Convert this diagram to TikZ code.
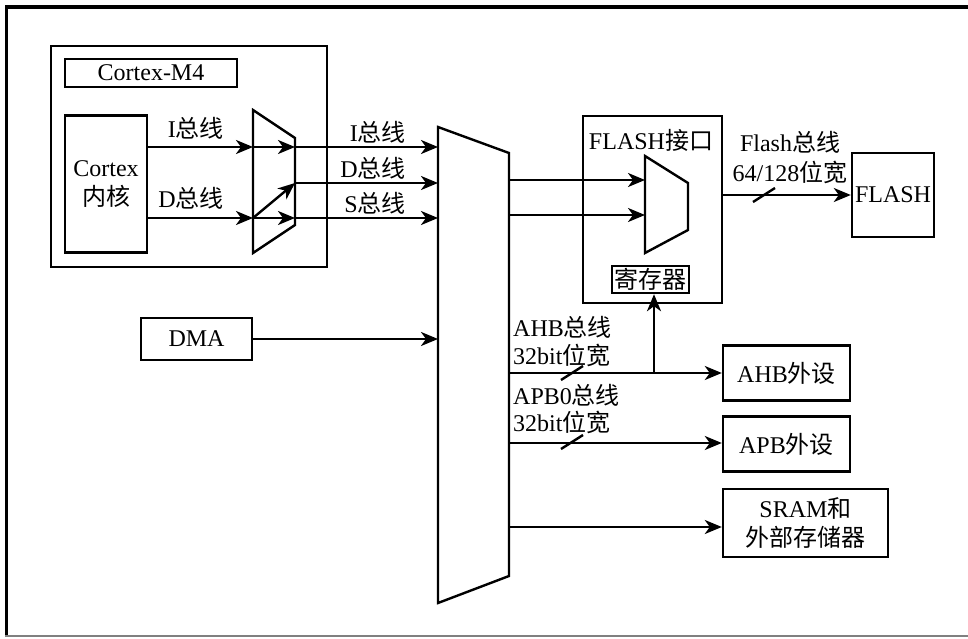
\documentclass[tikz,border=0pt]{standalone}
\usepackage{fontspec}
\setmainfont{Liberation Serif}
\newfontfamily\cjk{Noto Sans CJK SC}
\newcommand{\zh}[1]{{\cjk #1}}
\usetikzlibrary{arrows.meta}
\begin{document}
\begin{tikzpicture}[x=1pt,y=-1pt,
  box/.style={draw,line width=2.4pt,inner sep=0pt,align=center,font=\fontsize{24}{29}\selectfont},
  lbl/.style={inner sep=0pt,align=center,font=\fontsize{24}{29}\selectfont},
  wire/.style={line width=2.4pt},
  arr/.style={line width=2.4pt,-{Stealth[length=17pt,width=14pt,inset=5pt]}},
  outl/.style={line width=2.4pt,line join=miter}]
\useasboundingbox (0,0) rectangle (968,639);
% outer frame
\draw[line width=4pt] (5,7) -- (968,7);
\draw[line width=3pt] (6,7) -- (6,637);
\draw[line width=2pt,gray] (5,636) -- (968,636);

% Cortex-M4 block
\node[box,minimum width=276pt,minimum height=221pt] (m4) at (189,156.5) {};
\node[box,minimum width=172pt,minimum height=28pt] (m4lbl) at (151,73) {Cortex-M4};
\node[box,minimum width=82pt,minimum height=137pt] (core) at (106,184) {Cortex\\\zh{内核}};

% mux 1
\coordinate (m1a) at (253,110);
\coordinate (m1b) at (295,138);
\coordinate (m1c) at (295,225);
\coordinate (m1d) at (253,253);
\draw[outl] (m1a) -- (m1b) -- (m1c) -- (m1d) -- cycle;
\coordinate (m1i) at (253,147);
\coordinate (m1di) at (253,218);
\coordinate (m1o1) at (295,147);
\coordinate (m1o2) at (295,183);
\coordinate (m1o3) at (295,218);

% central bus matrix
\coordinate (c1) at (438,127);
\coordinate (c2) at (509,153);
\coordinate (c3) at (509,576);
\coordinate (c4) at (438,603);
\draw[outl] (c1) -- (c2) -- (c3) -- (c4) -- cycle;
\coordinate (ci) at (438,147);
\coordinate (cd) at (438,183);
\coordinate (cs) at (438,218);
\coordinate (o1) at (509,180);
\coordinate (o2) at (509,215);
\coordinate (oahb) at (509,373);
\coordinate (oapb) at (509,443);
\coordinate (osram) at (509,527);

% core buses
\draw[arr] (core.east |- m1i) -- (m1i);
\draw[arr] (core.east |- m1di) -- (m1di);
\draw[arr] (m1i) -- (m1o1);
\draw[arr] (m1di) -- (m1o3);
\draw[arr] (m1di) -- (m1o2);
\draw[arr] (m1o1) -- (ci);
\draw[arr] (m1o2) -- (cd);
\draw[arr] (m1o3) -- (cs);
\node[lbl,anchor=east] (lI1) at (224,128) {I\zh{总线}};
\node[lbl,anchor=east] (lD1) at (224,198) {D\zh{总线}};
\node[lbl,anchor=east] (lI2) at (406,132) {I\zh{总线}};
\node[lbl,anchor=east] (lD2) at (406,168) {D\zh{总线}};
\node[lbl,anchor=east] (lS2) at (406,203) {S\zh{总线}};

% DMA
\node[box,minimum width=111pt,minimum height=42pt] (dma) at (196.5,339) {DMA};
\draw[arr] (dma.east) -- (dma.east -| c1);

% FLASH interface
\node[box,minimum width=139pt,minimum height=187pt] (fi) at (652.5,209.5) {};
\node[lbl] (filbl) at (651,140) {FLASH\zh{接口}};
\coordinate (m2a) at (645,156);
\coordinate (m2b) at (688,183);
\coordinate (m2c) at (688,230);
\coordinate (m2d) at (645,253);
\draw[outl] (m2a) -- (m2b) -- (m2c) -- (m2d) -- cycle;
\coordinate (m2i1) at (645,180);
\coordinate (m2i2) at (645,215);
\draw[arr] (o1) -- (m2i1);
\draw[arr] (o2) -- (m2i2);
\node[box,minimum width=77pt,minimum height=27pt,fill=white] (reg) at (650.5,279.5) {\zh{寄存器}};

% FLASH
\node[box,minimum width=82pt,minimum height=84pt] (flash) at (893,195) {FLASH};
\draw[arr] (fi.east |- flash.west) -- (flash.west);
\coordinate (sf) at (764,195);
\draw[wire] ([shift={(-11,7)}]sf) -- ([shift={(11,-7)}]sf);
\node[lbl] (lf1) at (790,142) {Flash\zh{总线}};
\node[lbl] (lf2) at (790,172) {64/128\zh{位宽}};

% peripherals
\node[box,minimum width=127pt,minimum height=55pt] (ahb) at (786.5,373) {AHB\zh{外设}};
\node[box,minimum width=127pt,minimum height=55pt] (apb) at (786.5,444) {APB\zh{外设}};
\node[box,minimum width=165pt,minimum height=68pt] (sram) at (805.5,523) {SRAM\zh{和}\\\zh{外部存储器}};

\draw[arr] (oahb) -- (oahb -| ahb.west);
\coordinate (j) at (654,373);
\draw[arr] (j) -- (j |- reg.south);
\coordinate (sa) at (572,373);
\draw[wire] ([shift={(-11,7)}]sa) -- ([shift={(11,-7)}]sa);
\node[lbl,anchor=west] (la1) at (513,327) {AHB\zh{总线}};
\node[lbl,anchor=west] (la2) at (513,355) {32bit\zh{位宽}};

\draw[arr] (oapb) -- (oapb -| apb.west);
\coordinate (sp) at (572,442);
\draw[wire] ([shift={(-11,7)}]sp) -- ([shift={(11,-7)}]sp);
\node[lbl,anchor=west] (lp1) at (513,395) {APB0\zh{总线}};
\node[lbl,anchor=west] (lp2) at (513,422) {32bit\zh{位宽}};

\draw[arr] (osram) -- (osram -| sram.west);
\end{tikzpicture}
\end{document}
